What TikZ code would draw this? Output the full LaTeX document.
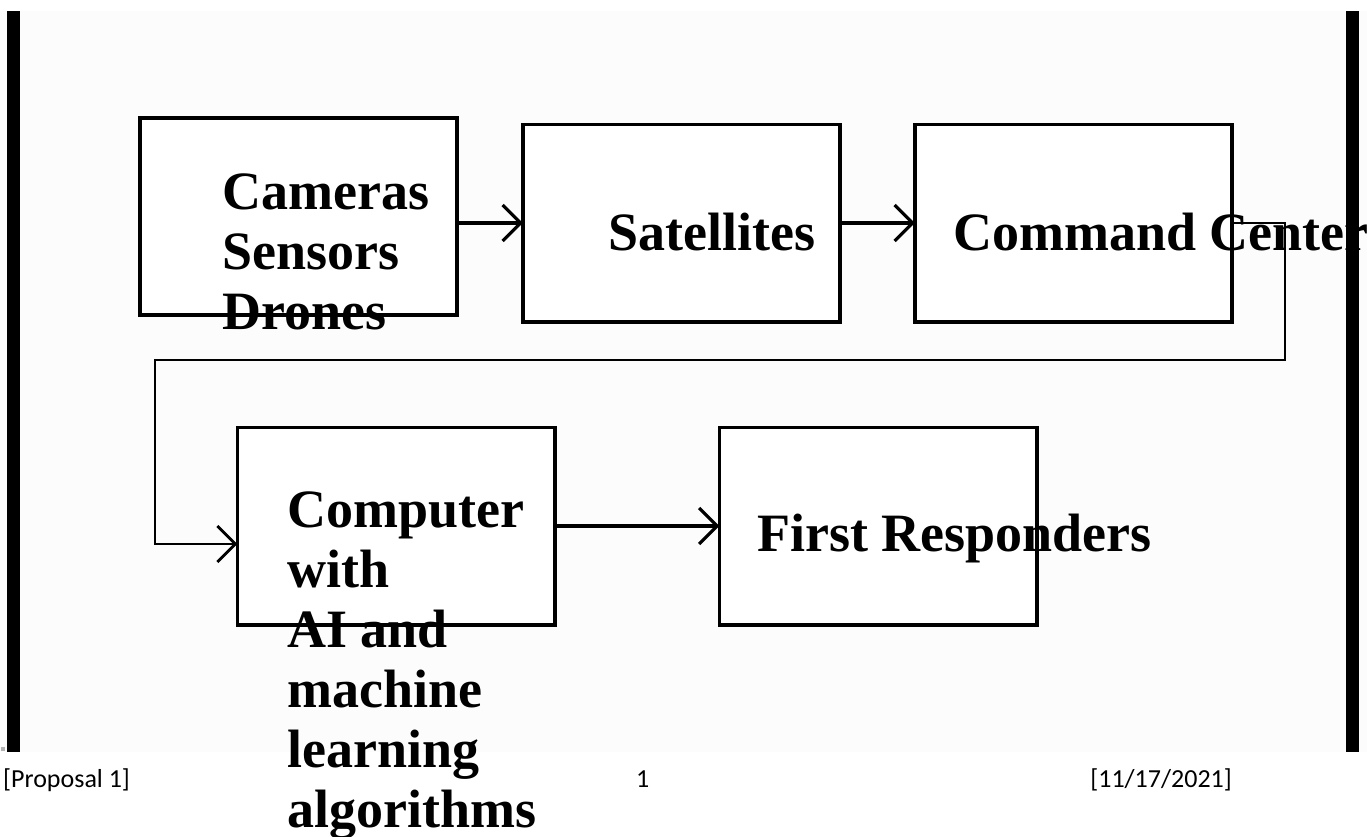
\documentclass[tikz,border=0pt]{standalone}
\usepackage{fontspec}
\setmainfont{Liberation Serif}
\newfontfamily\boxfont{Liberation Serif Bold}
\newfontfamily\footfont{Carlito}
\usetikzlibrary{arrows.meta}
\definecolor{pagegray}{HTML}{FCFCFC}
\begin{document}
\begin{tikzpicture}[x=1pt,y=-1pt,
  boxfill/.style={rectangle, fill=white, draw=none, minimum width=317pt, minimum height=197pt, inner sep=0pt},
  boxline/.style={draw=black, line width=3.6pt},
  lbl/.style={inner sep=0pt, anchor=base west, font=\boxfont\fontsize{54}{60}\selectfont},
  arr/.style={line width=3.2pt, -{Straight Barb[length=18pt,width=36pt]}},
  loopline/.style={line width=2.8pt, -{Straight Barb[length=18pt,width=36pt]}},
  foot/.style={inner sep=0pt, font=\footfont\fontsize{26}{30}\selectfont, anchor=base west},
  sidebar/.style={fill=black, draw=none}
]
\useasboundingbox (0,0) rectangle (1367,836);
\fill[white] (0,0) rectangle (1367,836);
\fill[pagegray] (0,11) rectangle (1367,752);
\fill[gray!60] (1,747) rectangle (5,751);

% box fills
\node[boxfill] (b1) at (298.5,216.5) {};
\node[boxfill] (b2) at (681.5,223) {};
\node[boxfill] (b3) at (1073.5,223) {};
\node[boxfill] (b4) at (396,526) {};
\node[boxfill] (b5) at (878,526) {};

% texts
\node[lbl] (t1) at (222,209) {\begin{tabular}[t]{@{}l@{}}Cameras\\Sensors\\Drones\end{tabular}};
\node[lbl] (t2) at (608,250) {Satellites};
\node[lbl] (t3) at (953,250) {Command Center};
\node[lbl] (t4) at (287,527) {\begin{tabular}[t]{@{}l@{}}Computer\\with\\AI and\\machine\\learning\\algorithms\end{tabular}};
\node[lbl] (t5) at (757,551) {First Responders};

% box outlines
\foreach \b in {b1,b2,b3,b4,b5}
  \draw[boxline] (\b.north west) rectangle (\b.south east);

% connectors
\coordinate (c1) at (1285,360);
\coordinate (c3) at (155,544);
\draw[arr] (b1.east |- b2.west) -- (b2.west);
\draw[arr] (b2.east) -- (b3.west);
\draw[loopline] (b3.east) -| (c1) -| (c3) -- (b4.west |- c3);
\draw[arr] (b4.east) -- (b5.west);

% side bars
\fill[sidebar] (7,11) rectangle (20,752);
\fill[sidebar] (1346,11) rectangle (1359,752);

% footer
\node[foot] (f1) at (3,787) {[Proposal 1]};
\node[foot] (f2) at (636,787) {1};
\node[foot, anchor=base east] (f3) at (1232,787) {[11/17/2021]};
\end{tikzpicture}
\end{document}
